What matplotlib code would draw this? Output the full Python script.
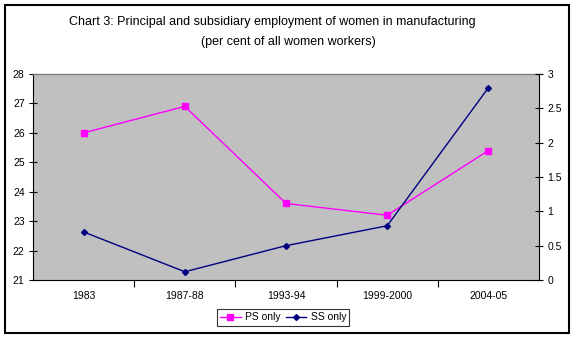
import matplotlib
matplotlib.use("Agg")
import matplotlib.pyplot as plt
from matplotlib.patches import Rectangle

categories = ["1983", "1987-88", "1993-94", "1999-2000", "2004-05"]
ps_only = [26.0, 26.9, 23.6, 23.2, 25.4]
ss_only = [0.70, 0.12, 0.50, 0.79, 2.80]
left_ticks = [21, 22, 23, 24, 25, 26, 27, 28]
right_ticks = [0, 0.5, 1, 1.5, 2, 2.5, 3]
right_labels = ["0", "0.5", "1", "1.5", "2", "2.5", "3"]

plt.rcParams['font.family'] = ['Liberation Sans', 'DejaVu Sans']

W, H = 573, 337
fig = plt.figure(figsize=(W/100, H/100), dpi=100)
fig.patch.set_facecolor('white')

# outer border
fig.add_artist(Rectangle((4.5/W, 1 - 332.5/H), (569-4.5)/W, (332.5-4.5)/H,
                         transform=fig.transFigure, fill=False, edgecolor='black', lw=1.5))

x0, x1, y0, y1 = 33, 539, 74, 280
ax = fig.add_axes([x0/W, 1 - y1/H, (x1-x0)/W, (y1-y0)/H])
ax.set_facecolor('#c0c0c0')
xs = list(range(len(categories)))
ax.plot(xs, ps_only, color='#ff00ff', marker='s', markersize=4.2, lw=1, label='PS only')
ax.set_xlim(-0.5, len(categories)-0.5)
ax.set_ylim(21, 28)
ax.set_yticks(left_ticks)
ax.set_yticklabels([str(t) for t in left_ticks], fontsize=7.5)
ax.set_xticks([i + 0.5 for i in range(len(categories)-1)])
ax.set_xticklabels([])
ax.set_xticks(xs, minor=True)
ax.set_xticklabels(categories, minor=True, fontsize=7.5)
ax.tick_params(axis='x', which='minor', length=0, pad=8)
ax.tick_params(axis='x', which='major', length=5, direction='out', width=0.8)
ax.tick_params(axis='y', direction='inout', length=6, width=0.8, pad=3)
ax.spines['top'].set_color('#808080')
ax.spines['top'].set_linewidth(1)
ax.spines['bottom'].set_color('black')
ax.spines['left'].set_color('black')
ax.spines['right'].set_visible(False)

ax2 = ax.twinx()
ax2.plot(xs, ss_only, color='#000080', marker='D', markersize=3, lw=1, label='SS only')
ax2.set_ylim(0, 3)
ax2.set_yticks(right_ticks)
ax2.set_yticklabels(right_labels, fontsize=7.5)
ax2.tick_params(axis='y', direction='inout', length=6, width=0.8, pad=3)
ax2.spines['right'].set_color('black')
ax2.spines['top'].set_visible(False)
ax2.spines['left'].set_visible(False)
ax2.spines['bottom'].set_visible(False)

fig.text(272/W, 1 - 21.5/H, "Chart 3: Principal and subsidiary employment of women in manufacturing",
         ha='center', va='center', fontsize=9)
fig.text(288/W, 1 - 42/H, "(per cent of all women workers)",
         ha='center', va='center', fontsize=9)

h1, l1 = ax.get_legend_handles_labels()
h2, l2 = ax2.get_legend_handles_labels()
leg = fig.legend(h1 + h2, l1 + l2, loc='center', bbox_to_anchor=(283/W, 1 - 317.5/H),
                 ncol=2, fontsize=7.5, frameon=True, fancybox=False, edgecolor='black',
                 handlelength=2.0, handletextpad=0.4, columnspacing=0.5,
                 borderpad=0.3, borderaxespad=0)
leg.get_frame().set_linewidth(0.8)

fig.savefig('out.png', dpi=100, facecolor='white')
